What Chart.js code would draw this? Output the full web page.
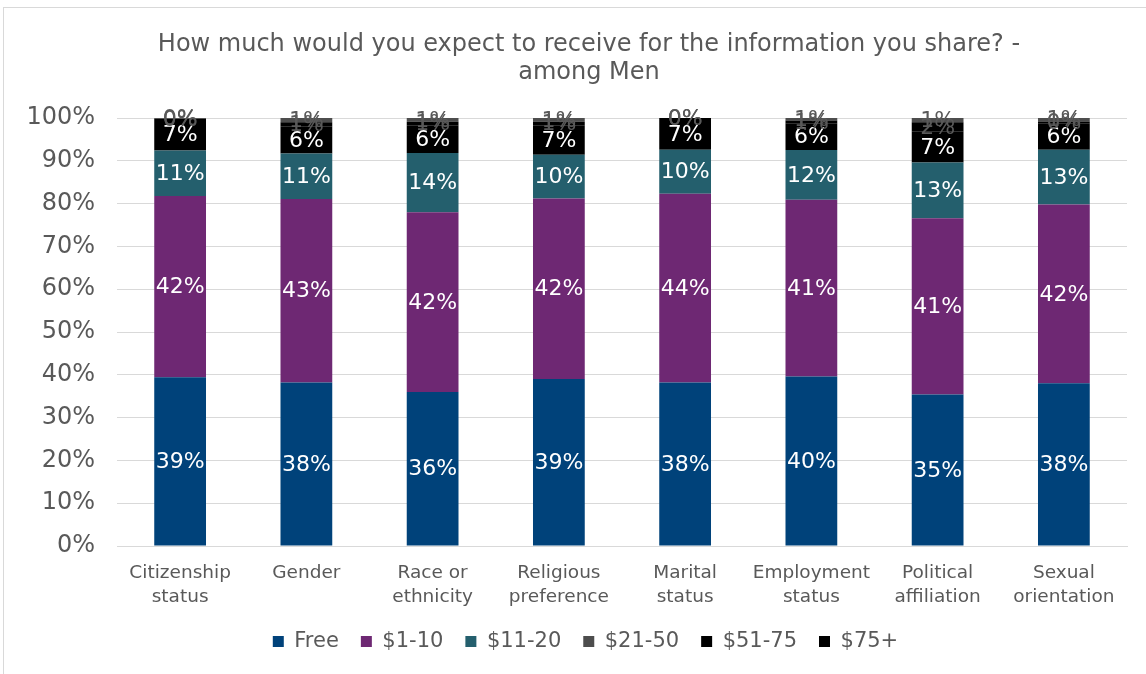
<!DOCTYPE html>
<html>
<head>
<meta charset="utf-8">
<script src="https://cdn.jsdelivr.net/npm/chart.js@4.4.1/dist/chart.umd.min.js"></script>
<style>
  html, body { margin: 0; padding: 0; background: #fff; overflow: hidden; }
  #wrap { position: relative; width: 1146px; height: 674px; overflow: hidden; }
  #frame { position: absolute; left: 3px; top: 7px; width: 1200px; height: 720px;
           border: 1px solid #d9d9d9; box-sizing: border-box; }
  canvas { position: absolute; left: 0; top: 0; }
</style>
</head>
<body>
<div id="wrap">
  <div id="frame"></div>
  <canvas id="c" width="1146" height="674"></canvas>
</div>
<script>
// Survey answers, share of men (%) per demographic question
const categories = [
  ['Citizenship', 'status'], ['Gender'], ['Race or', 'ethnicity'], ['Religious', 'preference'],
  ['Marital', 'status'], ['Employment', 'status'], ['Political', 'affiliation'], ['Sexual', 'orientation']
];
const seriesNames = ['Free', '$1-10', '$11-20', '$21-50', '$51-75', '$75+'];
const free      = [39.4, 38.2, 36.0, 39.0, 38.2, 39.6, 35.4, 38.0];
const usd1to10  = [42.4, 42.9, 42.0, 42.2, 44.1, 41.3, 41.2, 41.8];
const usd11to20 = [10.6, 10.6, 13.8, 10.2, 10.3, 11.6, 13.0, 12.8];
const usd21to50 = [0.2, 1.0, 0.9, 0.9, 0.0, 0.6, 1.0, 0.8];
const usd51to75 = [7.4, 6.4, 6.4, 6.8, 7.4, 6.3, 7.2, 6.2];
const usd75plus = [0.0, 0.9, 0.9, 0.9, 0.0, 0.6, 2.2, 0.4];
const yTicks = [0, 10, 20, 30, 40, 50, 60, 70, 80, 90, 100];
const titleLines = ['How much would you expect to receive for the information you share? -', 'among Men'];

const FONT = '"DejaVu Sans", Verdana, sans-serif';
const GREY_TEXT = '#595959';

const colors = ['#00427a', '#6e2873', '#245f6d', '#4d4d4d', '#000000', '#000000'];
const labelColors = ['#ffffff', '#ffffff', '#ffffff', GREY_TEXT, '#ffffff', GREY_TEXT];
// stacking order: the two top price bands sit above $51-75
const stackOrder = [0, 1, 2, 5, 3, 4];
const values = [free, usd1to10, usd11to20, usd21to50, usd51to75, usd75plus];

const datasets = seriesNames.map((name, i) => ({
  label: name,
  data: values[i],
  backgroundColor: colors[i],
  borderWidth: 0,
  order: stackOrder[i],
  categoryPercentage: 1.0,
  barPercentage: 0.41
}));

// Two-line chart title
const titlePlugin = {
  id: 'chartTitle',
  afterDraw(chart) {
    const ctx = chart.ctx;
    ctx.save();
    ctx.fillStyle = GREY_TEXT;
    ctx.font = '24px ' + FONT;
    ctx.textAlign = 'center';
    ctx.textBaseline = 'middle';
    ctx.fillText(titleLines[0], 589, 45);
    ctx.fillText(titleLines[1], 589, 73);
    ctx.restore();
  }
};

// Legend is centred under the whole frame rather than the canvas
const legendShift = {
  id: 'legendShift',
  afterLayout(chart) {
    const lg = chart.legend;
    if (!lg) return;
    lg.left += 22;
    lg.right += 22;
    if (lg.legendHitBoxes) lg.legendHitBoxes.forEach(h => { h.left += 22; });
  }
};

// Value labels centred in each segment
const valueLabels = {
  id: 'valueLabels',
  afterDatasetsDraw(chart) {
    const ctx = chart.ctx;
    ctx.save();
    ctx.font = '22px ' + FONT;
    ctx.textAlign = 'center';
    ctx.textBaseline = 'middle';
    chart.data.datasets.forEach((ds, di) => {
      const meta = chart.getDatasetMeta(di);
      meta.data.forEach((el, j) => {
        const v = ds.data[j];
        const cy = (el.y + el.base) / 2 + 1;
        ctx.fillStyle = labelColors[di];
        ctx.fillText(Math.round(v) + '%', el.x, cy);
      });
    });
    ctx.restore();
  }
};

new Chart(document.getElementById('c'), {
  type: 'bar',
  data: { labels: categories, datasets },
  options: {
    responsive: false,
    animation: false,
    devicePixelRatio: 1,
    layout: { padding: { left: 0, right: 19, top: 118, bottom: 12 } },
    plugins: {
      title: { display: false },
      tooltip: { enabled: false },
      legend: {
        position: 'bottom',
        labels: {
          color: GREY_TEXT,
          font: { family: FONT, size: 21 },
          boxWidth: 11,
          boxHeight: 11,
          padding: 22,
          sort: (a, b) => a.datasetIndex - b.datasetIndex
        }
      }
    },
    scales: {
      x: {
        stacked: true,
        grid: { display: false },
        border: { display: true, color: '#d9d9d9', width: 1 },
        ticks: { color: GREY_TEXT, font: { family: FONT, size: 18.5, lineHeight: 1.25 }, padding: 8, maxRotation: 0, autoSkip: false },
        afterFit(scale) {
          const legendH = scale.chart.legend ? scale.chart.legend.height : 0;
          scale.height = 674 - 546 - legendH - 12;
        }
      },
      y: {
        stacked: true,
        min: 0,
        max: 100,
        afterBuildTicks(scale) { scale.ticks = yTicks.map(v => ({ value: v })); },
        grid: { color: '#d9d9d9', drawTicks: false, lineWidth: 1 },
        border: { display: false },
        ticks: { color: GREY_TEXT, font: { family: FONT, size: 24 }, padding: 22, callback: v => v + '%' },
        afterFit(scale) { scale.width = 117; }
      }
    }
  },
  plugins: [titlePlugin, legendShift, valueLabels]
});
</script>
</body>
</html>
